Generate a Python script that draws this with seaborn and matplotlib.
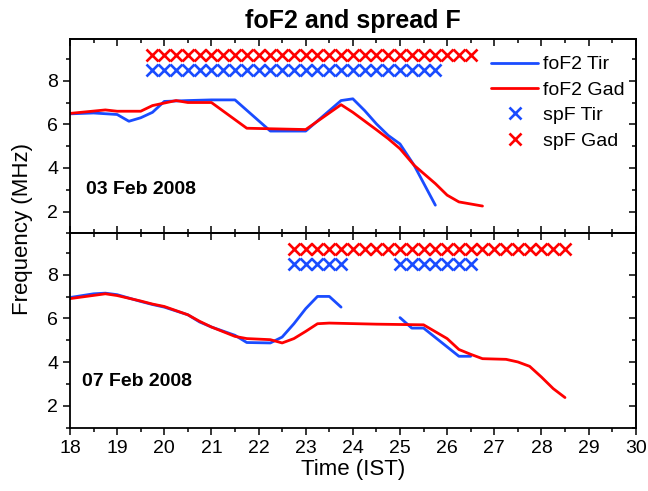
import numpy as np
import pandas as pd
import matplotlib
matplotlib.use("Agg")
import matplotlib.pyplot as plt
import seaborn as sns
from matplotlib.ticker import MultipleLocator
from matplotlib.lines import Line2D

sns.set_style("ticks")
plt.rcParams['font.family'] = ['Liberation Sans', 'DejaVu Sans']
plt.rcParams['text.color'] = 'black'
plt.rcParams['axes.labelcolor'] = 'black'
plt.rcParams['xtick.color'] = 'black'
plt.rcParams['ytick.color'] = 'black'

# ---------------- data ----------------
# 03 Feb 2008
top_tir_t = [18.0, 18.5, 19.0, 19.25, 19.5, 19.75, 20.0, 20.5, 21.0, 21.5, 22.25, 23.0,
             23.75, 24.0, 24.25, 24.5, 24.75, 25.0, 25.3, 25.75]
top_tir_v = [6.48, 6.52, 6.45, 6.14, 6.3, 6.55, 7.05, 7.09, 7.12, 7.12, 5.69, 5.69,
             7.09, 7.17, 6.63, 6.02, 5.49, 5.1, 4.12, 2.29]
top_gad_t = [18.0, 18.75, 19.0, 19.5, 19.75, 20.25, 20.5, 21.0, 21.75, 23.0, 23.75, 24.0,
             24.5, 24.75, 25.0, 25.3, 25.75, 26.0, 26.25, 26.75]
top_gad_v = [6.5, 6.66, 6.6, 6.6, 6.86, 7.09, 7.0, 7.0, 5.82, 5.76, 6.9, 6.55,
             5.75, 5.34, 4.88, 4.12, 3.28, 2.75, 2.44, 2.25]
top_spf_tir_t = [19.75, 20.0, 20.25, 20.5, 20.75, 21.0, 21.25, 21.5, 21.75, 22.0, 22.25, 22.5,
                 22.75, 23.0, 23.25, 23.5, 23.75, 24.0, 24.25, 24.5, 24.75, 25.0, 25.25, 25.5, 25.75]
top_spf_gad_t = [19.75, 20.0, 20.25, 20.5, 20.75, 21.0, 21.25, 21.5, 21.75, 22.0, 22.25, 22.5,
                 22.75, 23.0, 23.25, 23.5, 23.75, 24.0, 24.25, 24.5, 24.75, 25.0, 25.25, 25.5,
                 25.75, 26.0, 26.25, 26.5]

# 07 Feb 2008
bot_tir1_t = [18.0, 18.5, 18.75, 19.0, 19.5, 19.75, 20.0, 20.5, 20.75, 21.0, 21.5, 21.75,
              22.25, 22.5, 22.75, 23.0, 23.25, 23.5, 23.75]
bot_tir1_v = [6.96, 7.13, 7.16, 7.09, 6.78, 6.64, 6.52, 6.17, 5.84, 5.61, 5.23, 4.9,
              4.88, 5.15, 5.76, 6.45, 7.01, 7.01, 6.52]
bot_tir2_t = [25.0, 25.25, 25.5, 26.25, 26.5]
bot_tir2_v = [6.04, 5.56, 5.56, 4.27, 4.27]
bot_gad_t = [18.0, 18.75, 19.0, 19.5, 19.75, 20.0, 20.5, 20.75, 21.0, 21.5, 21.75, 22.25,
             22.5, 22.75, 23.0, 23.25, 23.5, 24.5, 25.5, 26.0, 26.25, 26.5, 26.75, 27.25,
             27.5, 27.75, 28.0, 28.25, 28.5]
bot_gad_v = [6.91, 7.13, 7.05, 6.8, 6.66, 6.55, 6.17, 5.87, 5.61, 5.18, 5.08, 5.03,
             4.88, 5.08, 5.41, 5.76, 5.79, 5.74, 5.71, 5.08, 4.58, 4.36, 4.16, 4.13,
             4.01, 3.81, 3.32, 2.79, 2.38]
bot_spf_tir_t = [22.75, 23.0, 23.25, 23.5, 23.75,
                 25.0, 25.25, 25.5, 25.75, 26.0, 26.25, 26.5]
bot_spf_gad_t = [22.75, 23.0, 23.25, 23.5, 23.75, 24.0, 24.25, 24.5, 24.75, 25.0, 25.25, 25.5,
                 25.75, 26.0, 26.25, 26.5, 26.75, 27.0, 27.25, 27.5, 27.75, 28.0, 28.25, 28.5]

spf_tir_level = 8.5
spf_gad_level = 9.2

x_ticks = [18, 19, 20, 21, 22, 23, 24, 25, 26, 27, 28, 29, 30]
y_ticks = [2, 4, 6, 8]

BLUE = '#1a4cff'
RED = '#ff0000'

# ---------------- figure ----------------
fig = plt.figure(figsize=(6.48, 4.91), dpi=100)
L = 70 / 648
W = 565.7 / 648
ax1 = fig.add_axes([L, 1 - 233.3 / 491, W, 194 / 491])
ax2 = fig.add_axes([L, 1 - 427.7 / 491, W, 194.4 / 491])

lw = 2.0
ms = 9
mew = 1.9


def draw(ax, tir_segs, gad_t, gad_v, spf_tir, spf_gad):
    for (tt, vv) in tir_segs:
        sns.lineplot(x=tt, y=vv, ax=ax, color=BLUE, lw=lw, sort=False,
                     estimator=None, legend=False)
    sns.lineplot(x=gad_t, y=gad_v, ax=ax, color=RED, lw=lw, sort=False,
                 estimator=None, legend=False)
    ax.plot(spf_gad, [spf_gad_level] * len(spf_gad), ls='none', marker='x',
            color=RED, ms=ms, mew=mew)
    ax.plot(spf_tir, [spf_tir_level] * len(spf_tir), ls='none', marker='x',
            color=BLUE, ms=ms, mew=mew)


draw(ax1, [(top_tir_t, top_tir_v)], top_gad_t, top_gad_v, top_spf_tir_t, top_spf_gad_t)
draw(ax2, [(bot_tir1_t, bot_tir1_v), (bot_tir2_t, bot_tir2_v)], bot_gad_t, bot_gad_v,
     bot_spf_tir_t, bot_spf_gad_t)

for ax in (ax1, ax2):
    ax.set_xlim(18, 30)
    ax.set_ylim(1, 9.9)
    ax.set_xticks(x_ticks)
    ax.set_yticks(y_ticks)
    ax.xaxis.set_minor_locator(MultipleLocator(0.5))
    ax.yaxis.set_minor_locator(MultipleLocator(1))
    ax.set_xlabel('')
    ax.set_ylabel('')
    for s in ax.spines.values():
        s.set_visible(True)
        s.set_linewidth(1.3)
        s.set_color('black')
    ax.tick_params(axis='both', which='major', length=5, width=1.1, labelsize=14,
                   colors='black', direction='out')
    ax.tick_params(axis='both', which='minor', length=3, width=1.1, direction='out')
    # right side inward ticks
    sy = ax.secondary_yaxis('right')
    sy.set_yticks(y_ticks)
    sy.yaxis.set_minor_locator(MultipleLocator(1))
    sy.tick_params(which='major', direction='in', length=5, width=1.1, labelright=False)
    sy.tick_params(which='minor', direction='in', length=3, width=1.1)
    sy.spines['right'].set_linewidth(1.3)
    # top inward ticks
    sx = ax.secondary_xaxis('top')
    sx.set_xticks(x_ticks)
    sx.xaxis.set_minor_locator(MultipleLocator(0.5))
    sx.tick_params(which='major', direction='in', length=5, width=1.1, labeltop=False)
    sx.tick_params(which='minor', direction='in', length=3, width=1.1)
    sx.spines['top'].set_linewidth(1.3)

ax1.tick_params(axis='x', which='both', direction='in', labelbottom=False)

ax1.text(18.35, 3.0, '03 Feb 2008', fontsize=14, fontweight='bold', va='center', ha='left')
ax2.text(18.25, 3.1, '07 Feb 2008', fontsize=14, fontweight='bold', va='center', ha='left')

ax1.set_title('foF2 and spread F', fontsize=18, fontweight='bold', pad=8, color='black')
ax2.set_xlabel('Time (IST)', fontsize=16, labelpad=2)
fig.text(23 / 648, 1 - 229 / 491, 'Frequency (MHz)', rotation=90, fontsize=16,
         ha='center', va='center')

handles = [
    Line2D([], [], color=BLUE, lw=lw),
    Line2D([], [], color=RED, lw=lw),
    Line2D([], [], color=BLUE, ls='none', marker='x', ms=ms, mew=mew),
    Line2D([], [], color=RED, ls='none', marker='x', ms=ms, mew=mew),
]
labels = ['foF2 Tir', 'foF2 Gad', 'spF Tir', 'spF Gad']
ax1.legend(handles, labels, loc='upper left', bbox_to_anchor=(0.745, 0.915),
           frameon=False, fontsize=14, handlelength=2.4, handletextpad=0.25,
           labelspacing=0.4, borderpad=0, borderaxespad=0)

fig.savefig('out.png', dpi=100)
